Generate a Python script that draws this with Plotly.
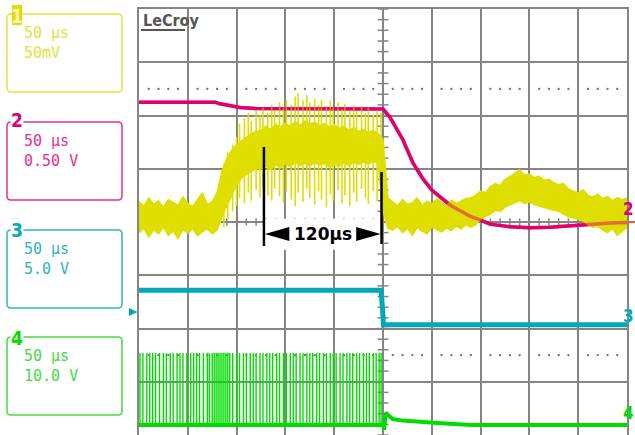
import plotly.graph_objects as go

# Time axis in microseconds (50 us/div, trigger at 0); vertical axis in screen divisions.
# ---------------- Channel 1 (yellow, 50 mV/div): noisy envelope -----------------
CH1_T = list(range(-250, 255, 5))
CH1_HI = [0.38, 0.30, 0.45, 0.33, 0.40, 0.28, 0.42, 0.36, 0.31, 0.47, 0.35, 0.29, 0.41, 0.55, 0.33, 0.38,
          0.55, 0.95, 1.20, 1.35, 1.45, 1.52, 1.58, 1.66, 1.70,
          1.72, 1.80, 1.74, 1.83, 1.78, 1.86, 1.80, 1.88, 1.82, 1.90, 1.84, 1.87, 1.81, 1.85, 1.78, 1.83,
          1.76, 1.80, 1.72, 1.77, 1.70, 1.74, 1.68, 1.72, 1.66,
          1.55, 0.45,
          0.38, 0.30, 0.42, 0.33, 0.36, 0.45, 0.31, 0.39, 0.34, 0.43, 0.37, 0.30, 0.41, 0.35, 0.39, 0.44,
          0.45, 0.50, 0.58, 0.55, 0.66, 0.72, 0.68, 0.80, 0.85, 0.92, 0.98, 0.88, 0.90, 0.83, 0.86, 0.78,
          0.80, 0.74, 0.70, 0.72, 0.62, 0.58, 0.55, 0.60, 0.50, 0.47, 0.52, 0.44, 0.48, 0.40, 0.46, 0.42, 0.45]
CH1_LO = [-0.20, -0.12, -0.28, -0.15, -0.22, -0.10, -0.25, -0.17, -0.31, -0.14, -0.21, -0.12, -0.26, -0.18, -0.13, -0.22,
          -0.15, 0.10, 0.30, 0.50, 0.70, 0.82, 0.90, 0.95, 1.00,
          1.00, 1.05, 0.98, 1.08, 1.02, 1.10, 1.04, 1.12, 1.06, 1.10, 1.05, 1.12, 1.07, 1.10, 1.03, 1.08,
          1.05, 1.11, 1.06, 1.12, 1.08, 1.13, 1.09, 1.14, 1.10,
          0.20, -0.12,
          -0.15, -0.08, -0.20, -0.12, -0.25, -0.10, -0.17, -0.22, -0.09, -0.14, -0.19, -0.11, -0.16, -0.08, -0.13, -0.05,
          -0.10, -0.05, 0.05, 0.10, 0.15, 0.22, 0.20, 0.28, 0.32, 0.36, 0.40, 0.35, 0.38, 0.33, 0.30, 0.28,
          0.25, 0.22, 0.20, 0.15, 0.10, 0.08, 0.05, 0.02, -0.05, -0.10, -0.08, -0.15, -0.20, -0.12, -0.25, -0.18, -0.10]
# switching spikes on channel 1
CH1_SPIKE_T = [-163, -159, -154, -150, -147, -142, -138, -135, -130, -126, -123, -118, -114, -111, -106, -102,
               -99, -94, -90, -87, -82, -78, -75, -70, -66, -63, -58, -54, -51, -46, -42, -39, -34, -30, -27,
               -22, -18, -15, -10, -6, -2]
CH1_SPIKE_HI = [1.10, 1.30, 1.45, 1.60, 1.85, 1.95, 2.05, 1.90, 2.10, 2.00, 2.15, 2.05, 2.20, 2.10, 2.25, 2.15,
                2.30, 2.20, 2.35, 2.42, 2.28, 2.38, 2.25, 2.32, 2.20, 2.30, 2.18, 2.28, 2.15, 2.25, 2.12, 2.22,
                2.10, 2.20, 2.08, 2.18, 2.05, 2.15, 2.02, 2.10, 2.05]
CH1_SPIKE_LO = [-0.10, 0.05, 0.20, 0.30, 0.45, 0.35, 0.55, 0.40, 0.60, 0.45, 0.65, 0.50, 0.40, 0.62, 0.48, 0.35,
                0.58, 0.42, 0.30, 0.55, 0.38, 0.62, 0.45, 0.33, 0.57, 0.42, 0.28, 0.52, 0.40, 0.60, 0.35, 0.50,
                0.30, 0.55, 0.38, 0.62, 0.45, 0.33, 0.58, 0.40, 0.20]

# ---------------- Channel 2 (magenta, 0.50 V/div) -----------------
CH2_T = [-250, -172, -167, -157, -146.5, -131, -85, -2, 0, 7, 20.5, 30.7, 41, 50, 59.4, 68.6, 79, 89,
         99.4, 109.6, 130, 150.6, 171, 191.6, 212, 232.6, 250]
CH2_V = [2.25, 2.25, 2.22, 2.18, 2.15, 2.13, 2.13, 2.12, 2.12, 1.97, 1.54, 1.11, 0.81, 0.60, 0.45, 0.32,
         0.21, 0.11, 0.04, -0.04, -0.09, -0.11, -0.10, -0.07, -0.04, -0.02, -0.01]

# ---------------- Channel 3 (teal, 5.0 V/div) -----------------
CH3_T = [-250, -2, -0.5, 0.5, 250]
CH3_V = [-1.28, -1.28, -1.62, -1.93, -1.93]

# ---------------- Channel 4 (green, 10.0 V/div) -----------------
CH4_T = [-250, 0, 1, 3, 6, 10, 20, 40, 60, 90, 250]
CH4_V = [-3.81, -3.81, -3.90, -3.58, -3.64, -3.70, -3.73, -3.76, -3.78, -3.81, -3.81]
CH4_PULSE_T = [-249, -246, -242, -239, -236, -233, -229, -225, -222, -218, -215, -211, -208, -205, -201, -197,
               -194, -191, -188, -184, -180, -178, -175, -173, -171, -169, -167, -165, -163, -161, -159, -157,
               -154, -150, -147, -143, -140, -136, -133, -130, -126, -123, -119, -116, -113, -109, -106, -102,
               -99, -95, -92, -89, -85, -82, -78, -75, -72, -68, -65, -61, -58, -54, -51, -48, -44, -41, -37,
               -34, -31, -27, -24, -20, -17, -14, -10, -7, -4, -2]
CH4_PULSE_TOP = -2.46
CH4_PULSE_BASE = -3.81

# ---------------- Measurement cursors -----------------
CURSOR_T = [-122, -1.5]
CURSOR_TOP = [1.41, 0.94]
CURSOR_BOTTOM = [-0.45, -0.41]
MEAS_Y = -0.225
MEAS_LABEL = "120μs"

# ---------------- Channel info boxes -----------------
CH_NUM = ["1", "2", "3", "4"]
CH_TIMEBASE = ["50 μs", "50 μs", "50 μs", "50 μs"]
CH_SCALE = ["50mV", "0.50 V", "5.0 V", "10.0 V"]

TRACE_COL = ["#dede00", "#e0006e", "#00a8b8", "#00dc00"]
BOX_COL = ["#e2e240", "#e8308a", "#30b2c2", "#44dc44"]
GRID = "#858585"

# pixel helpers for decorations in the margin
X0, PW, YB, PH = 139, 488, 435, 426
def px(x):
    return (x - X0) / PW
def py(y):
    return (YB - y) / PH

def segs(ts, los, his):
    xs, ys = [], []
    for t, lo, hi in zip(ts, los, his):
        xs += [t, t, None]
        ys += [lo, hi, None]
    return xs, ys

fig = go.Figure()

# center-line tick marks and dotted quarter lines (graticule decoration)
tx, ty = [], []
for k in range(-20, 21):
    v = k * 0.2
    tx += [-5.6, 5.6, None]
    ty += [v, v, None]
for k in range(-25, 26):
    t = k * 10
    tx += [t, t, None]
    ty += [-0.07, 0.07, None]
fig.add_trace(go.Scatter(x=tx, y=ty, mode="lines", line=dict(color=GRID, width=1.5), hoverinfo="skip"))
dx, dy = [], []
for k in range(-25, 26):
    t = k * 10
    if t % 50 != 0:
        dx += [t, t]
        dy += [2.5, -2.5]
fig.add_trace(go.Scatter(x=dx, y=dy, mode="markers",
                         marker=dict(symbol="square", size=2, color="#707070"), hoverinfo="skip"))

# channel 4
pxs, pys = segs(CH4_PULSE_T, [CH4_PULSE_BASE] * len(CH4_PULSE_T), [CH4_PULSE_TOP] * len(CH4_PULSE_T))
fig.add_trace(go.Scatter(x=pxs, y=pys, mode="lines", line=dict(color=TRACE_COL[3], width=1.4)))
fig.add_trace(go.Scatter(x=CH4_T, y=CH4_V, mode="lines", line=dict(color=TRACE_COL[3], width=4)))
# channel 3
fig.add_trace(go.Scatter(x=CH3_T, y=CH3_V, mode="lines", line=dict(color=TRACE_COL[2], width=5)))
# channel 2
fig.add_trace(go.Scatter(x=CH2_T, y=CH2_V, mode="lines", line=dict(color=TRACE_COL[1], width=3.5)))
# channel 1 envelope band + spikes
fig.add_trace(go.Scatter(x=CH1_T, y=CH1_LO, mode="lines", line=dict(color=TRACE_COL[0], width=1.5)))
fig.add_trace(go.Scatter(x=CH1_T, y=CH1_HI, mode="lines", fill="tonexty", fillcolor=TRACE_COL[0],
                         line=dict(color=TRACE_COL[0], width=1.5)))
sx, sy = segs(CH1_SPIKE_T, CH1_SPIKE_LO, CH1_SPIKE_HI)
fig.add_trace(go.Scatter(x=sx, y=sy, mode="lines", line=dict(color=TRACE_COL[0], width=1.6)))
# channel 2 blended over channel 1
fig.add_trace(go.Scatter(x=CH2_T, y=CH2_V, mode="lines", opacity=0.5,
                         line=dict(color=TRACE_COL[1], width=3.5)))

shapes = []
annotations = []

# measurement box, cursors, arrows
shapes.append(dict(type="rect", xref="x", yref="y", x0=CURSOR_T[0] + 1, x1=CURSOR_T[1] - 1,
                   y0=0.06, y1=-0.52, fillcolor="white", line=dict(width=0), layer="above"))
for t, top, bot in zip(CURSOR_T, CURSOR_TOP, CURSOR_BOTTOM):
    shapes.append(dict(type="line", xref="x", yref="y", x0=t, x1=t, y0=bot, y1=top,
                       line=dict(color="black", width=2.5), layer="above"))
AH = 26
AW = 0.13
l, r = CURSOR_T
shapes.append(dict(type="path", xref="x", yref="y", layer="above", fillcolor="black", line=dict(width=0),
                   path=f"M {l+1},{MEAS_Y} L {l+AH},{MEAS_Y+AW} L {l+AH},{MEAS_Y-AW} Z"))
shapes.append(dict(type="path", xref="x", yref="y", layer="above", fillcolor="black", line=dict(width=0),
                   path=f"M {r-1},{MEAS_Y} L {r-AH},{MEAS_Y+AW} L {r-AH},{MEAS_Y-AW} Z"))
annotations.append(dict(x=(l + r) / 2, y=MEAS_Y, xref="x", yref="y", text=f"<b>{MEAS_LABEL}</b>",
                        showarrow=False, font=dict(family="DejaVu Sans", size=17, color="black"),
                        xanchor="center", yanchor="middle"))

# channel boxes
def rrect(x0, y0, x1, y1, r):
    pts = [("M", x0 + r, y0), ("L", x1 - r, y0), ("Q", x1, y0, x1, y0 + r), ("L", x1, y1 - r),
           ("Q", x1, y1, x1 - r, y1), ("L", x0 + r, y1), ("Q", x0, y1, x0, y1 - r), ("L", x0, y0 + r),
           ("Q", x0, y0, x0 + r, y0)]
    s = ""
    for p in pts:
        if p[0] == "Q":
            s += f"Q {px(p[1]):.5f},{py(p[2]):.5f} {px(p[3]):.5f},{py(p[4]):.5f} "
        else:
            s += f"{p[0]} {px(p[1]):.5f},{py(p[2]):.5f} "
    return s + "Z"

BOX_TOP = [14, 122, 230, 337]
for i in range(4):
    top = BOX_TOP[i]
    shapes.append(dict(type="path", xref="paper", yref="paper", path=rrect(7, top, 122, top + 78, 4),
                       line=dict(color=BOX_COL[i], width=1.5), fillcolor="rgba(0,0,0,0)"))
    annotations.append(dict(x=px(22), y=py(top + 19), xref="paper", yref="paper", text=CH_TIMEBASE[i],
                            showarrow=False, xanchor="left", yanchor="middle",
                            font=dict(family="DejaVu Sans Mono", size=15, color=BOX_COL[i])))
    annotations.append(dict(x=px(22), y=py(top + 39), xref="paper", yref="paper", text=CH_SCALE[i],
                            showarrow=False, xanchor="left", yanchor="middle",
                            font=dict(family="DejaVu Sans Mono", size=15, color=BOX_COL[i])))
# badge 1 (inverted)
shapes.append(dict(type="rect", xref="paper", yref="paper", x0=px(12), x1=px(22), y0=py(5), y1=py(25),
                   fillcolor=TRACE_COL[0], line=dict(width=0)))
NUMFONT = "Liberation Sans Narrow, DejaVu Sans Condensed, Arial Narrow, sans-serif"
annotations.append(dict(x=px(17), y=py(15.5), xref="paper", yref="paper", text="<b>1</b>", showarrow=False,
                        xanchor="center", yanchor="middle", font=dict(family=NUMFONT, size=19, color="#f6f6b8")))
for i, cy in zip([1, 2, 3], [120.5, 229.5, 337.5]):
    annotations.append(dict(x=px(17), y=py(cy), xref="paper", yref="paper", text=f"<b>{CH_NUM[i]}</b>",
                            showarrow=False, xanchor="center", yanchor="middle", bgcolor="white",
                            borderpad=0, font=dict(family=NUMFONT, size=19, color=TRACE_COL[i])))

# right-edge channel markers
for i, cy in zip([1, 2, 3], [209.5, 315.5, 412.5]):
    annotations.append(dict(x=px(635), y=py(cy), xref="paper", yref="paper", text=f"<b>{CH_NUM[i]}</b>",
                            showarrow=False, xanchor="right", yanchor="middle", borderpad=0,
                            font=dict(family=NUMFONT, size=17, color=TRACE_COL[i])))
shapes.append(dict(type="line", xref="paper", yref="paper", x0=px(627), x1=px(635), y0=py(222), y1=py(222),
                   line=dict(color="#e85a40", width=2)))
# ch3 ground marker on left
shapes.append(dict(type="path", xref="paper", yref="paper", fillcolor=TRACE_COL[2], line=dict(width=0),
                   path=f"M {px(129)},{py(308)} L {px(137.5)},{py(312)} L {px(129)},{py(316)} Z"))

# LeCroy logo
annotations.append(dict(x=px(140.5), y=py(20), xref="paper", yref="paper", text="<b>LeCroy</b>",
                        showarrow=False, xanchor="left", yanchor="middle",
                        font=dict(family=NUMFONT, size=16, color="#555555")))
shapes.append(dict(type="line", xref="paper", yref="paper", x0=px(141), x1=px(185), y0=py(30), y1=py(30),
                   line=dict(color="#555555", width=2)))

fig.update_layout(
    width=635, height=435,
    margin=dict(l=139, r=8, t=9, b=0, pad=0),
    paper_bgcolor="white", plot_bgcolor="white",
    showlegend=False, hovermode=False,
    shapes=shapes, annotations=annotations,
    xaxis=dict(range=[-250, 250], tick0=0, dtick=50, showgrid=True, gridcolor=GRID, gridwidth=2,
               zeroline=False, showticklabels=False, ticks="", showline=True, linecolor=GRID,
               linewidth=2, mirror=True, fixedrange=True),
    yaxis=dict(range=[-4, 4], tick0=0, dtick=1, showgrid=True, gridcolor=GRID, gridwidth=2,
               zeroline=False, showticklabels=False, ticks="", showline=True, linecolor=GRID,
               linewidth=2, mirror=True, fixedrange=True),
)

fig.write_html("out.html", config={"displayModeBar": False},
               post_script="document.body.style.margin='0px';document.body.style.padding='0px';")
